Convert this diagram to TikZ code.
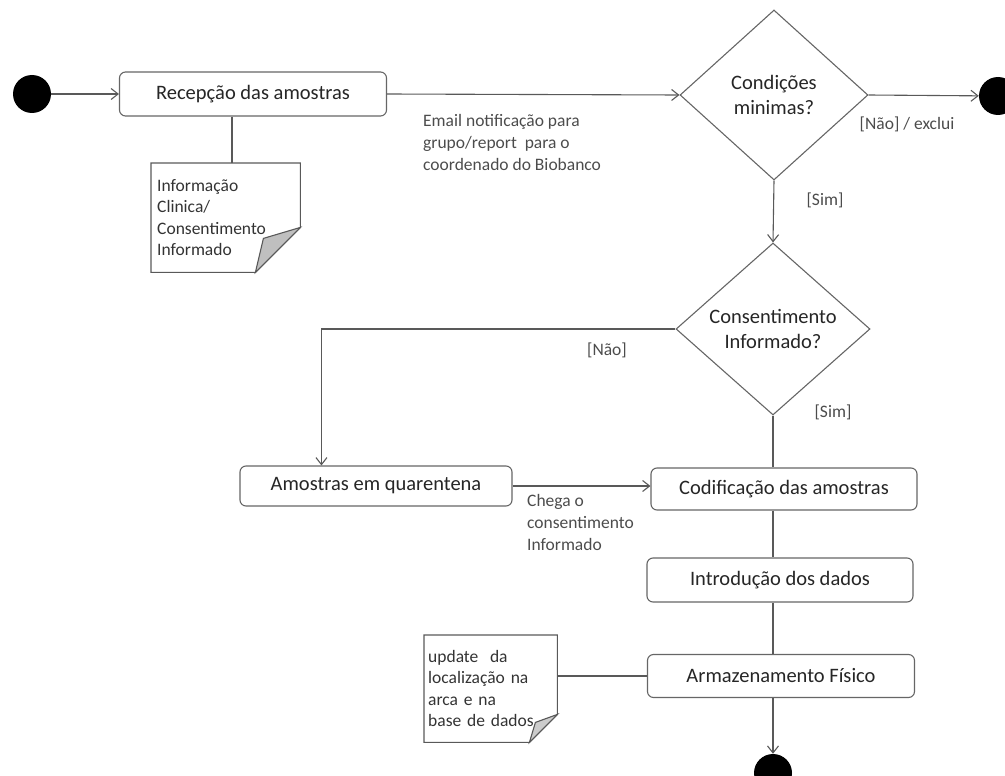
\documentclass[tikz,border=0pt]{standalone}
\usepackage{fontspec}
\setmainfont{Carlito}
\usetikzlibrary{shapes.geometric,arrows.meta,calc}

\tikzset{
  act/.style={draw=black!60, line width=1.1pt, rounded corners=6pt, fill=white,
    text=black!85, font=\fontsize{20.5}{24}\selectfont},
  decision/.style={diamond, draw=black!60, line width=1.1pt, fill=white, inner sep=0pt,
    align=center, text=black!85, font=\fontsize{20.5}{25}\selectfont},
  blob/.style={circle, fill=black, minimum size=38pt, inner sep=0pt},
  notebox/.style={draw=none, anchor=north west, align=left, text=black!80,
    inner sep=6pt, font=\fontsize{17.5}{21.5}\selectfont},
  noteline/.style={draw=black!65, line width=1.1pt},
  guard/.style={text=black!70, inner sep=0pt, align=left, font=\fontsize{17.5}{22}\selectfont},
  flow/.style={draw=black!65, line width=1.1pt, -{Straight Barb[length=7pt,width=11pt]}},
  link/.style={draw=black!65, line width=1.1pt},
}

\begin{document}
\begin{tikzpicture}[x=1pt,y=-1pt]
  \useasboundingbox (0,0) rectangle (1005,776);
  \clip (0,0) rectangle (1005,776);

  % start / end markers
  \node[blob] (start) at (32,94) {};
  \node[blob] (endx) at (998,96) {};
  \node[blob] (endy) at (773,773) {};

  % activities
  \node[act, minimum width=267pt, minimum height=44pt] (recep) at (253,94) {Recepção das amostras};
  \node[act, minimum width=272pt, minimum height=40pt] (quar) at (376,486) {Amostras em quarentena};
  \node[act, minimum width=266pt, minimum height=42pt] (codif) at (784,489) {Codificação das amostras};
  \node[act, minimum width=266pt, minimum height=44pt] (intro) at (780,580) {Introdução dos dados};
  \node[act, minimum width=267pt, minimum height=43pt] (armaz) at (781,676) {Armazenamento Físico};

  % decisions
  \node[decision, minimum width=188pt, minimum height=170pt] (cond) at (774,95) {Condições\\minimas?};
  \node[decision, minimum width=194pt, minimum height=172pt] (consent) at (773,329) {Consentimento\\Informado?};

  % notes
  \node[notebox, minimum width=149pt, minimum height=109pt, text width=137pt] (info) at (151,163)
    {Informação\\Clinica/\\Consentimento\\Informado};
  \draw[noteline] (info.north west) -- (info.north east) -- ($(info.south east)+(0,-45)$)
    -- ($(info.south east)+(-45,0)$) -- (info.south west) -- cycle;
  \filldraw[noteline, fill=black!25] ($(info.south east)+(0,-45)$) -- ($(info.south east)+(-37,-34)$)
    -- ($(info.south east)+(-45,0)$) -- cycle;

  \node[notebox, minimum width=131pt, minimum height=107pt, text width=125pt, inner sep=4pt] (upd) at (424,635)
    {update\ \ da\\localização na\\arca e na\\base de dados};
  \draw[noteline] (upd.north west) -- (upd.north east) -- ($(upd.south east)+(0,-28)$)
    -- ($(upd.south east)+(-28,0)$) -- (upd.south west) -- cycle;
  \filldraw[noteline, fill=black!20] ($(upd.south east)+(0,-28)$) -- ($(upd.south east)+(-22,-20)$)
    -- ($(upd.south east)+(-28,0)$) -- cycle;

  % connectors
  \draw[flow] (start) -- (recep.west);
  \draw[link] (recep.south -| 232,0) -- (info.north -| 232,0);
  \draw[flow] (recep.east) -- (cond.west);
  \draw[flow] (cond.east) -- (endx);
  \draw[flow] (cond.south) -- (consent.north);
  \draw[flow] (consent.west) -| ($(quar.north west)+(82,0)$);
  \draw[link] (consent.south) -- (consent.south |- codif.north);
  \draw[flow] (quar.east) -- (quar.east -| codif.west);
  \draw[link] (consent.south |- codif.south) -- (consent.south |- intro.north);
  \draw[link] (consent.south |- intro.south) -- (consent.south |- armaz.north);
  \draw[link] (upd.east |- armaz.west) -- (armaz.west);
  \draw[flow] (consent.south |- armaz.south) -- (endy);

  % labels
  \node[guard, anchor=north west] (emailnote) at (423,114)
    {Email notificação para\\grupo/report\ \ para o\\coordenado do Biobanco};
  \node[guard] (naoexcl) at (907,124) {[Não] / exclui};
  \node[guard] (simcond) at (825,200) {[Sim]};
  \node[guard] (naocons) at (607,350) {[Não]};
  \node[guard] (simcons) at (833,412) {[Sim]};
  \node[guard, anchor=north west] (chega) at (527,494)
    {Chega o\\consentimento\\Informado};
\end{tikzpicture}
\end{document}
